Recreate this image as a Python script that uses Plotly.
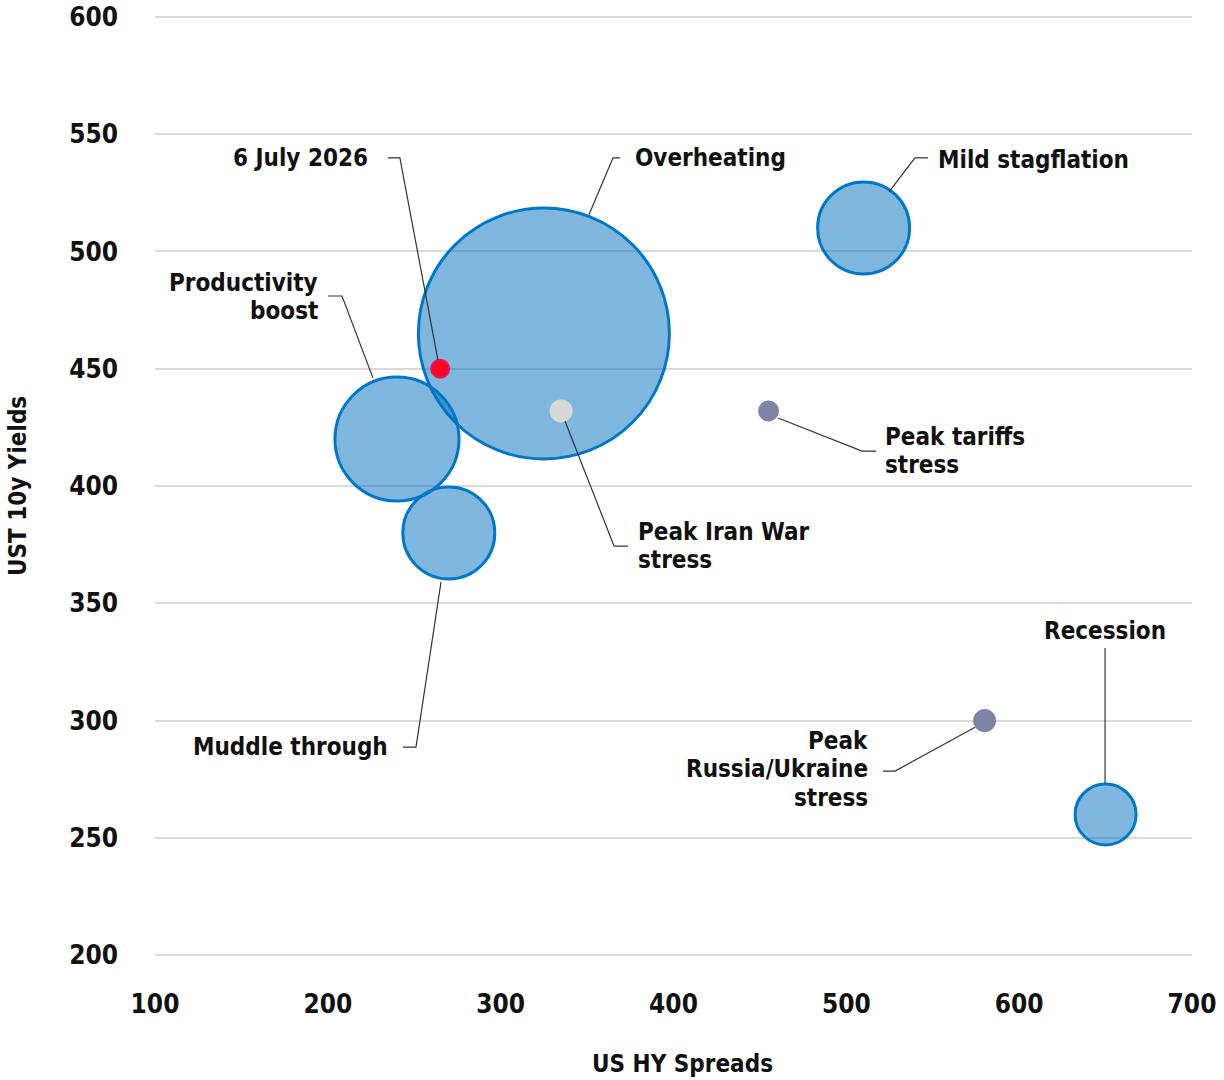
import plotly.graph_objects as go

# ---- data ----
bubble_names = ["Overheating", "Mild stagflation", "Productivity boost", "Muddle through", "Recession"]
bubble_x = [325, 510, 240, 270, 650]
bubble_y = [465, 510, 420, 380, 260]
bubble_size = [251, 92, 124, 92, 61]

dot_names = ["6 July 2026", "Peak Iran War stress", "Peak tariffs stress", "Peak Russia/Ukraine stress"]
dot_x = [265, 335, 455, 580]
dot_y = [450, 432, 432, 300]
dot_size = [18, 21, 19, 21]
dot_colors = ["#FF0022", "#D9D9D9", "#7D84A6", "#7D84A6"]
dot_lines = ["#E8175D", "#D9D9D9", "#7D84A6", "#7D84A6"]

x_ticks = [100, 200, 300, 400, 500, 600, 700]
y_ticks = [200, 250, 300, 350, 400, 450, 500, 550, 600]

# label text (lines), anchor (data coords), x-anchor
labels = [
    (["6 July 2026"], 224.4, 540.0, "right"),
    (["Overheating"], 376.6, 540.0, "left"),
    (["Mild stagflation"], 551.9, 539.0, "left"),
    (["Productivity", "boost"], 195.5, 480.6, "right"),
    (["Muddle through"], 236.0, 288.7, "right"),
    (["Peak Iran War", "stress"], 378.3, 374.4, "left"),
    (["Peak tariffs", "stress"], 521.2, 414.9, "left"),
    (["Peak", "Russia/Ukraine", "stress"], 513.7, 279.3, "right"),
    (["Recession"], 649.7, 338.2, "center"),
]

# leader line paths (data coords)
leaders = [
    [(234.8, 539.9), (241.7, 539.9), (263.7, 453.7)],
    [(369.0, 539.9), (365.0, 539.9), (351.1, 515.6)],
    [(547.3, 539.9), (539.7, 539.9), (524.7, 525.4)],
    [(200.1, 481.0), (208.2, 481.0), (226.1, 446.1)],
    [(243.5, 288.7), (251.0, 288.7), (265.5, 359.1)],
    [(373.7, 374.4), (365.6, 374.4), (337.2, 427.7)],
    [(517.2, 414.9), (509.1, 414.9), (460.5, 429.0)],
    [(521.2, 278.5), (528.2, 278.5), (574.5, 297.2)],
    [(649.7, 330.9), (649.7, 273.3)],
]

FONT = "DejaVu Sans Condensed, sans-serif"
FS = 24
FS_TICK = 26
TXT = "#111111"

fig = go.Figure()
fig.add_trace(go.Scatter(
    x=bubble_x, y=bubble_y, mode="markers", text=bubble_names, hoverinfo="text",
    marker=dict(size=bubble_size, sizemode="diameter", opacity=1,
                color="rgba(0,112,192,0.5)",
                line=dict(color="#0077C8", width=3)),
    showlegend=False,
))
fig.add_trace(go.Scatter(
    x=dot_x, y=dot_y, mode="markers", text=dot_names, hoverinfo="text",
    marker=dict(size=dot_size, color=dot_colors, opacity=1,
                line=dict(color=dot_lines, width=2)),
    showlegend=False,
))

LINE_PITCH = 28.5
for lines, lx, ly, anchor in labels:
    n = len(lines)
    for i, t in enumerate(lines):
        shift = ((n - 1) / 2 - i) * LINE_PITCH
        fig.add_annotation(
            x=lx, y=ly, xref="x", yref="y", text=t, showarrow=False,
            xanchor=anchor, yanchor="middle", yshift=shift,
            font=dict(family=FONT, size=FS, color=TXT, weight=600),
        )

for pts in leaders:
    path = "M " + " L ".join(f"{px},{py}" for px, py in pts)
    fig.add_shape(type="path", path=path, xref="x", yref="y",
                  line=dict(color="#333333", width=1.2), layer="above")

# axis titles
fig.add_annotation(x=0.509, y=-0.112, xref="paper", yref="paper", text="US HY Spreads",
                   showarrow=False, xanchor="center", yanchor="middle",
                   font=dict(family=FONT, size=FS, color=TXT, weight=600))
fig.add_annotation(x=-0.132, y=0.5, xref="paper", yref="paper", text="UST 10y Yields",
                   showarrow=False, xanchor="center", yanchor="middle", textangle=-90,
                   font=dict(family=FONT, size=FS, color=TXT, weight=600))

fig.update_layout(
    width=1224, height=1080,
    margin=dict(l=155, r=32, t=14, b=122),
    plot_bgcolor="white", paper_bgcolor="white",
    font=dict(family=FONT, size=FS, color=TXT),
    xaxis=dict(
        range=[100, 700], tickvals=x_ticks, showgrid=False, zeroline=False,
        showline=False, ticks="", ticklabelstandoff=28, automargin=False,
        tickfont=dict(family=FONT, size=FS_TICK, color=TXT, weight=600),
    ),
    yaxis=dict(
        range=[198.8, 601.2], tickvals=y_ticks, showgrid=True, gridcolor="#D9D9D9",
        gridwidth=2, zeroline=False, showline=False, ticks="", ticklabelstandoff=36,
        automargin=False,
        tickfont=dict(family=FONT, size=FS_TICK, color=TXT, weight=600),
    ),
)

fig.write_html("out.html")
